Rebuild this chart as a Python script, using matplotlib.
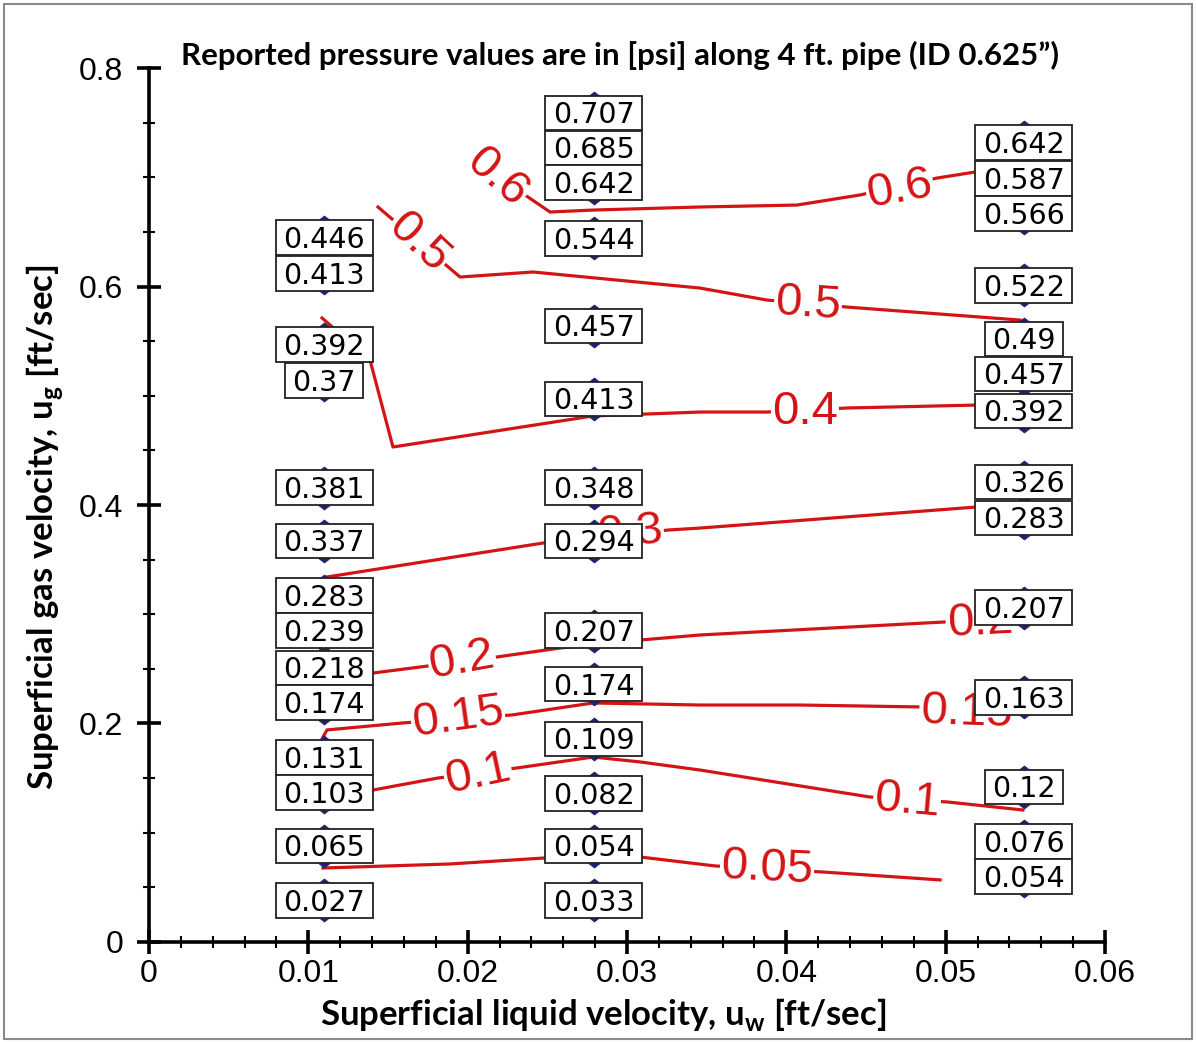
import matplotlib
matplotlib.use("Agg")
import matplotlib.pyplot as plt
import matplotlib.transforms as mtransforms
from matplotlib.patches import Rectangle
from matplotlib.path import Path
from matplotlib.ticker import MultipleLocator, FuncFormatter

plt.rcParams['font.family'] = ['Liberation Sans', 'DejaVu Sans']
plt.rcParams['mathtext.fontset'] = 'custom'
plt.rcParams['mathtext.rm'] = 'Lato'
plt.rcParams['mathtext.bf'] = 'Lato:bold'

# ---- measured pressure drops [psi] at each (u_w, u_g) test point ----
uw_col1 = 0.0110
ug_col1 = [0.645, 0.612, 0.547, 0.514, 0.416, 0.367, 0.317, 0.285, 0.251, 0.219, 0.169, 0.137, 0.088, 0.038]
dp_col1 = [0.446, 0.413, 0.392, 0.37, 0.381, 0.337, 0.283, 0.239, 0.218, 0.174, 0.131, 0.103, 0.065, 0.027]

uw_col2 = 0.0279
ug_col2 = [0.759, 0.727, 0.695, 0.644, 0.564, 0.497, 0.416, 0.367, 0.285, 0.236, 0.186, 0.136, 0.088, 0.038]
dp_col2 = [0.707, 0.685, 0.642, 0.544, 0.457, 0.413, 0.348, 0.294, 0.207, 0.174, 0.109, 0.082, 0.054, 0.033]

uw_col3 = 0.0549
ug_col3 = [0.732, 0.699, 0.667, 0.601, 0.552, 0.520, 0.486, 0.421, 0.388, 0.306, 0.224, 0.142, 0.092, 0.060]
dp_col3 = [0.642, 0.587, 0.566, 0.522, 0.49, 0.457, 0.392, 0.326, 0.283, 0.207, 0.163, 0.12, 0.076, 0.054]

# ---- iso-pressure lines [psi] ----
iso_005_x = [0.01092, 0.01889, 0.02485, 0.03082, 0.03552, 0.04224, 0.04965]
iso_005_y = [0.0677, 0.0714, 0.0769, 0.0778, 0.0696, 0.0641, 0.0568]
iso_010_x = [0.01406, 0.01814, 0.02310, 0.02787, 0.03082, 0.03458, 0.04525, 0.05015, 0.05485]
iso_010_y = [0.1391, 0.1501, 0.1593, 0.1693, 0.1648, 0.1574, 0.1327, 0.1281, 0.1208]
iso_015_x = [0.01092, 0.01117, 0.01594, 0.02278, 0.02787, 0.03458, 0.04086, 0.04860]
iso_015_y = [0.1876, 0.1941, 0.2005, 0.2078, 0.2188, 0.2169, 0.2169, 0.2151]
iso_020_x = [0.01406, 0.01701, 0.02184, 0.02580, 0.03082, 0.03458, 0.04990]
iso_020_y = [0.2462, 0.2517, 0.2609, 0.2691, 0.2764, 0.2810, 0.2929]
iso_030_x = [0.01117, 0.02473, 0.03258, 0.03458, 0.05197, 0.05400]
iso_030_y = [0.3341, 0.3652, 0.3771, 0.3789, 0.3982, 0.4000]
iso_040_x = [0.01086, 0.01387, 0.01531, 0.02787, 0.03458, 0.03879, 0.04381, 0.05197]
iso_040_y = [0.5712, 0.5327, 0.4531, 0.4815, 0.4851, 0.4851, 0.4888, 0.4915]
iso_050_x = [0.01437, 0.01952, 0.02410, 0.03458, 0.03879, 0.04381, 0.05467]
iso_050_y = [0.6728, 0.6087, 0.6133, 0.5986, 0.5876, 0.5812, 0.5693]
iso_060_x = [0.02184, 0.02379, 0.02517, 0.02787, 0.03458, 0.04067, 0.04462, 0.04946, 0.05184]
iso_060_y = [0.6993, 0.6819, 0.6682, 0.6700, 0.6728, 0.6746, 0.6838, 0.6993, 0.7048]

iso_lines = [(iso_005_x, iso_005_y), (iso_010_x, iso_010_y), (iso_015_x, iso_015_y),
             (iso_020_x, iso_020_y), (iso_030_x, iso_030_y), (iso_040_x, iso_040_y),
             (iso_050_x, iso_050_y), (iso_060_x, iso_060_y)]

# inline level labels: text, x, y, rotation
iso_labels = [
    ("0.05", 0.03879, 0.0670, -3),
    ("0.1", 0.02065, 0.1535, 12),
    ("0.1", 0.04757, 0.1290, -5),
    ("0.15", 0.01939, 0.2050, 8),
    ("0.15", 0.05130, 0.2100, -2),
    ("0.2", 0.01964, 0.2581, 10),
    ("0.2", 0.05216, 0.2930, 3),
    ("0.3", 0.03019, 0.3744, 5),
    ("0.4", 0.04117, 0.4851, 0),
    ("0.5", 0.01690, 0.6400, -43),
    ("0.5", 0.04136, 0.5840, -4),
    ("0.6", 0.02184, 0.7000, -41),
    ("0.6", 0.04713, 0.6890, 10),
]

RED = '#d41414'
NAVY = '#1f2378'

fig = plt.figure(figsize=(11.96, 10.42), dpi=100)
ax = fig.add_axes([0.1246, 0.0960, 0.7993, 0.8387])
ax.set_xlim(0, 0.06)
ax.set_ylim(0, 0.8)

for sp in ('top', 'right'):
    ax.spines[sp].set_visible(False)
for sp in ('left', 'bottom'):
    ax.spines[sp].set_linewidth(2.6)

ax.xaxis.set_major_locator(MultipleLocator(0.01))
ax.xaxis.set_minor_locator(MultipleLocator(0.002))
ax.yaxis.set_major_locator(MultipleLocator(0.2))
ax.yaxis.set_minor_locator(MultipleLocator(0.05))
fmt = FuncFormatter(lambda v, p: '%g' % round(v, 4))
ax.xaxis.set_major_formatter(fmt)
ax.yaxis.set_major_formatter(fmt)
ax.tick_params(which='major', direction='inout', length=17, width=2.6,
               labelsize=23, pad=4)
ax.tick_params(axis='y', which='major', pad=10)
ax.tick_params(which='minor', direction='inout', length=9, width=1.5)

# iso-pressure lines with inline labels
for xs, ys in iso_lines:
    ax.plot(xs, ys, color=RED, lw=2.3, zorder=2, solid_joinstyle='round')
for txt, lx, ly, rot in iso_labels:
    ax.text(lx, ly, txt, color=RED, fontsize=34, ha='center', va='center',
            rotation=rot, rotation_mode='anchor', zorder=3,
            family='Liberation Sans',
            bbox=dict(boxstyle='square,pad=0.02', fc='white', ec='none'))

# data markers: a tall bar with pointed ends, sitting behind the value boxes
point_marker = Path([(0, 1), (0.26, 0.8), (0.26, -0.8), (0, -1), (-0.26, -0.8), (-0.26, 0.8), (0, 1)],
                    [Path.MOVETO] + [Path.LINETO] * 5 + [Path.CLOSEPOLY])

box_fs = 20.5
em_px = box_fs * fig.dpi / 72.0
digit_h_pt = 0.729 * box_fs
box_h_in = 0.345
margin_in = 0.075

columns = [(uw_col1, ug_col1, dp_col1), (uw_col2, ug_col2, dp_col2), (uw_col3, ug_col3, dp_col3)]
for uw, ugs, dps in columns:
    ax.plot([uw] * len(ugs), ugs, ls='none', marker=point_marker, ms=31,
            mfc=NAVY, mec=NAVY, mew=0.5, zorder=4)
    for ug, dp in zip(ugs, dps):
        s = str(dp)
        nd = sum(c.isdigit() for c in s)
        w_in = em_px * (0.636 * nd + 0.318 * s.count('.')) / fig.dpi + 2 * margin_in
        tr = fig.dpi_scale_trans + mtransforms.ScaledTranslation(uw, ug, ax.transData)
        ax.add_patch(Rectangle((-w_in / 2, -box_h_in / 2), w_in, box_h_in,
                               transform=tr, fc='white', ec='#222222', lw=1.3,
                               zorder=5, clip_on=False))
        ttr = mtransforms.offset_copy(ax.transData, fig=fig, y=-digit_h_pt / 2, units='points')
        ax.text(uw, ug, s, transform=ttr, ha='center', va='baseline',
                fontsize=box_fs, family='DejaVu Sans', color='black', zorder=6)

fig.text(0.518, 0.947, u"Reported pressure values are in [psi] along 4 ft. pipe (ID 0.625\u201d)",
         ha='center', va='center', fontsize=22.5, fontweight='bold', family='Lato')
fig.text(0.504, 0.026, r"Superficial liquid velocity, u$_{\mathbf{w}}$ [ft/sec]",
         ha='center', va='center', fontsize=25, fontweight='bold', family='Lato')
fig.text(0.037, 0.494, r"Superficial gas velocity, u$_{\mathbf{g}}$ [ft/sec]",
         ha='center', va='center', fontsize=25, fontweight='bold', family='Lato',
         rotation=90)

# thin frame around the whole figure
fig.add_artist(Rectangle((0.003, 0.003), 0.994, 0.993, transform=fig.transFigure,
                         fill=False, ec='#8a8a8a', lw=1.5))

fig.savefig('out.png', dpi=100)
